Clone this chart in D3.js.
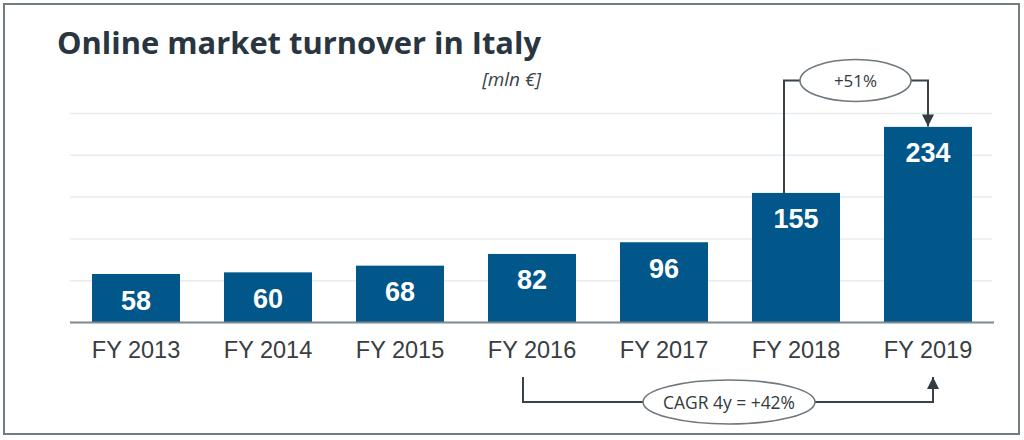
<!DOCTYPE html>
<html>
<head>
<meta charset="utf-8">
<script src="https://cdn.jsdelivr.net/npm/d3@7"></script>
<style>
  html, body { margin: 0; padding: 0; background: #fff; }
  svg { display: block; }
</style>
</head>
<body>
<svg id="chart" width="1024" height="440"></svg>
<script>
const categories = ["FY 2013", "FY 2014", "FY 2015", "FY 2016", "FY 2017", "FY 2018", "FY 2019"];
const values = [58, 60, 68, 82, 96, 155, 234];
const gridTicks = [50, 100, 150, 200, 250];
const titleText = "Online market turnover in Italy";
const unitText = "[mln €]";
const growthLabel = "+51%";
const cagrLabel = "CAGR 4y = +42%";

const svg = d3.select("#chart");

// frame
svg.append("rect").attr("x", 5).attr("y", 5).attr("width", 1012).attr("height", 428)
  .attr("fill", "none").attr("stroke", "#e6e9eb").attr("stroke-width", 4);
svg.append("rect").attr("x", 4).attr("y", 4).attr("width", 1015).attr("height", 430)
  .attr("fill", "none").attr("stroke", "#737c82").attr("stroke-width", 2);
svg.append("rect").attr("x", 5).attr("y", 5).attr("width", 1013).attr("height", 428)
  .attr("fill", "#fff");

const x = d3.scaleBand().domain(categories).range([70, 994]).paddingInner(1/3).paddingOuter(1/6);
const y = d3.scaleLinear().domain([0, 250]).range([322.5, 113.5]);

// gridlines
svg.append("g").selectAll("line").data(gridTicks).join("line")
  .attr("x1", 70).attr("x2", 992)
  .attr("y1", d => y(d)).attr("y2", d => y(d))
  .attr("stroke", "#e7ecf0").attr("stroke-width", 1.5);

// bars
svg.append("g").selectAll("rect").data(values).join("rect")
  .attr("x", (d, i) => x(categories[i]))
  .attr("y", d => y(d))
  .attr("width", x.bandwidth())
  .attr("height", d => y(0) - y(d))
  .attr("fill", "#015789");

// bar labels
svg.append("g").selectAll("text").data(values).join("text")
  .attr("x", (d, i) => x(categories[i]) + x.bandwidth() / 2)
  .attr("y", d => y(d) + 35.5)
  .attr("text-anchor", "middle")
  .attr("font-family", "'Liberation Sans', Arial, sans-serif")
  .attr("font-weight", "bold")
  .attr("font-size", 27)
  .attr("fill", "#ffffff")
  .text(d => d);

// x axis
const xAxis = svg.append("g").attr("transform", `translate(0,${y(0)})`)
  .call(d3.axisBottom(x).tickSize(0).tickPadding(0));
xAxis.select(".domain").attr("stroke", "#7d878d").attr("stroke-width", 1.8).attr("d", "M70,0H994");
xAxis.selectAll("text")
  .attr("y", 35.5).attr("dy", 0)
  .attr("font-family", "'Liberation Sans', Arial, sans-serif")
  .attr("font-size", 23.5)
  .attr("fill", "#383d42");

// title
svg.append("text").attr("x", 57).attr("y", 54)
  .attr("font-family", "'Open Sans', sans-serif").attr("font-weight", "bold")
  .attr("font-size", 30).attr("fill", "#29363f")
  .attr("textLength", 484).attr("lengthAdjust", "spacingAndGlyphs")
  .text(titleText);
svg.append("text").attr("x", 541).attr("y", 86)
  .attr("text-anchor", "end")
  .attr("font-family", "'Open Sans', sans-serif").attr("font-style", "italic")
  .attr("font-size", 19).attr("fill", "#3c4449")
  .text(unitText);

// arrow marker
const defs = svg.append("defs");
defs.append("marker").attr("id", "arr").attr("viewBox", "0 0 12 12")
  .attr("refX", 12).attr("refY", 6).attr("markerWidth", 12).attr("markerHeight", 12)
  .attr("markerUnits", "userSpaceOnUse").attr("orient", "auto")
  .append("path").attr("d", "M0,0 L12,6 L0,12 Z").attr("fill", "#333c43");

const lineColor = "#38424a";
const ellStroke = "#6f787e";
const cx = c => x(c) + x.bandwidth() / 2;

// +51% annotation
const g1 = svg.append("g");
const e1 = { cx: 855.5, cy: 80.5, rx: 55.5, ry: 21 };
const x18 = cx("FY 2018") - 12, x19 = cx("FY 2019");
g1.append("path")
  .attr("d", `M${x18},${y(values[5])} V${e1.cy} H${e1.cx - e1.rx}`)
  .attr("fill", "none").attr("stroke", lineColor).attr("stroke-width", 2);
g1.append("path")
  .attr("d", `M${e1.cx + e1.rx},${e1.cy} H${x19} V${y(values[6]) - 0.5}`)
  .attr("fill", "none").attr("stroke", lineColor).attr("stroke-width", 2)
  .attr("marker-end", "url(#arr)");
g1.append("ellipse").attr("cx", e1.cx).attr("cy", e1.cy).attr("rx", e1.rx).attr("ry", e1.ry)
  .attr("fill", "#fff").attr("stroke", ellStroke).attr("stroke-width", 1.6);
g1.append("text").attr("x", e1.cx).attr("y", e1.cy + 6.5).attr("text-anchor", "middle")
  .attr("font-family", "'Open Sans', sans-serif").attr("font-size", 17).attr("fill", "#333a40")
  .text(growthLabel);

// CAGR annotation
const g2 = svg.append("g");
const e2 = { cx: 729, cy: 402, rx: 86, ry: 22 };
const x16 = cx("FY 2016") - 9, x19b = cx("FY 2019") + 5;
g2.append("path")
  .attr("d", `M${x16},377 V${e2.cy} H${e2.cx - e2.rx}`)
  .attr("fill", "none").attr("stroke", lineColor).attr("stroke-width", 2);
g2.append("path")
  .attr("d", `M${e2.cx + e2.rx},${e2.cy} H${x19b} V377`)
  .attr("fill", "none").attr("stroke", lineColor).attr("stroke-width", 2)
  .attr("marker-end", "url(#arr)");
g2.append("ellipse").attr("cx", e2.cx).attr("cy", e2.cy).attr("rx", e2.rx).attr("ry", e2.ry)
  .attr("fill", "#fff").attr("stroke", ellStroke).attr("stroke-width", 1.6);
g2.append("text").attr("x", e2.cx).attr("y", e2.cy + 7).attr("text-anchor", "middle")
  .attr("font-family", "'Open Sans', sans-serif").attr("font-size", 17.5).attr("fill", "#333a40")
  .attr("textLength", 132).attr("lengthAdjust", "spacingAndGlyphs")
  .text(cagrLabel);
</script>
</body>
</html>
